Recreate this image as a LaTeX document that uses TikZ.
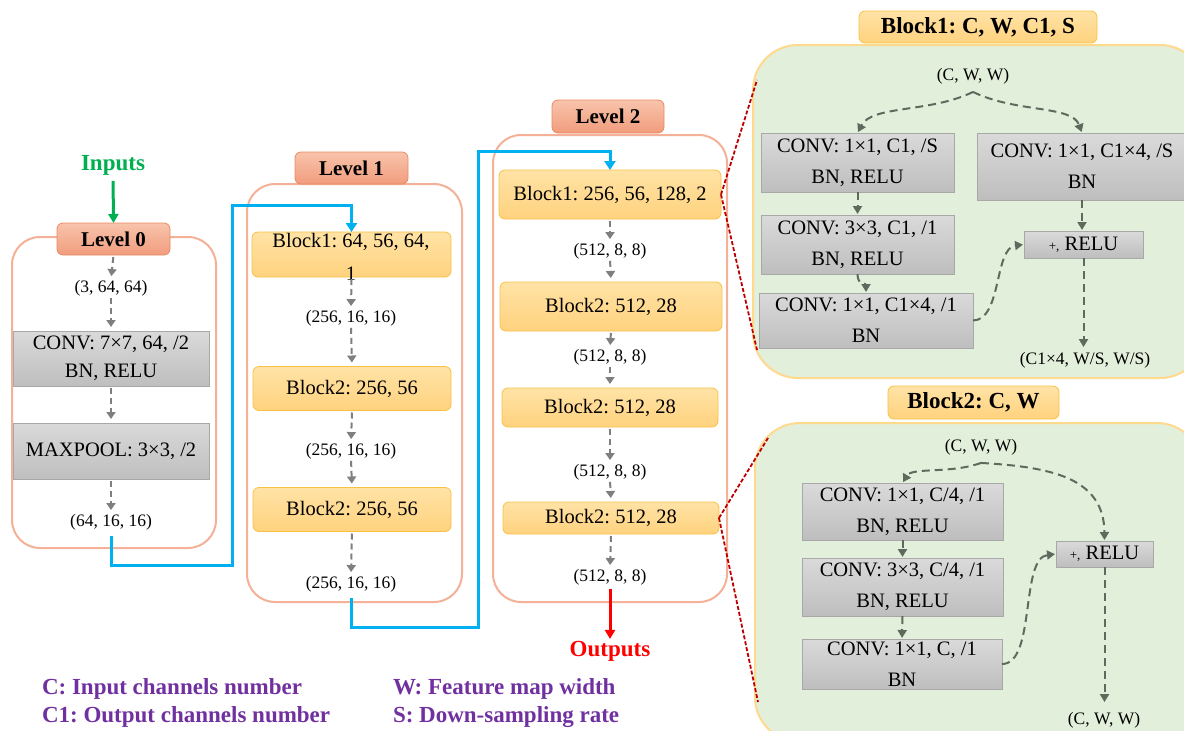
\documentclass[tikz,border=0pt]{standalone}
\usepackage{fontspec}
\setmainfont{Liberation Serif}
\usetikzlibrary{arrows.meta}
\frenchspacing

\definecolor{salmonline}{HTML}{F4B197}
\definecolor{tabtop}{HTML}{F8C4AC}
\definecolor{tabbot}{HTML}{F19C7C}
\definecolor{tabline}{HTML}{E88A62}
\definecolor{blktop}{HTML}{FFE3A6}
\definecolor{blkbot}{HTML}{FFD27E}
\definecolor{blkline}{HTML}{F7C244}
\definecolor{grytop}{HTML}{DADADA}
\definecolor{grybot}{HTML}{BEBEBE}
\definecolor{gryline}{HTML}{A8A8A8}
\definecolor{flowgray}{HTML}{7F7F7F}
\definecolor{flowgreen}{HTML}{5E6A5E}
\definecolor{linkblue}{HTML}{00B0F0}
\definecolor{zoomred}{HTML}{C00000}
\definecolor{panelfill}{HTML}{E2EFDA}
\definecolor{panelline}{HTML}{FFD98E}
\definecolor{legendpurple}{HTML}{7030A0}
\definecolor{ingreen}{HTML}{00B050}
\definecolor{outred}{HTML}{FF0000}

\tikzset{
  every node/.style={inner sep=0pt, outer sep=0pt},
  lvlframe/.style={draw=salmonline, line width=2pt, rounded corners=28pt, fill=white},
  lvltab/.style={draw=tabline, line width=0.8pt, rounded corners=6pt,
    top color=tabtop, bottom color=tabbot, font=\fontsize{21}{24}\selectfont\bfseries},
  blk/.style={draw=blkline, line width=0.8pt, rounded corners=6pt,
    top color=blktop, bottom color=blkbot, font=\fontsize{20.5}{33}\selectfont, align=center},
  blktitle/.style={draw=blkline, line width=0.8pt, rounded corners=6pt,
    top color=blktop, bottom color=blkbot, font=\fontsize{23}{26}\selectfont\bfseries},
  op/.style={draw=gryline, line width=0.8pt, top color=grytop, bottom color=grybot,
    align=center, font=\fontsize{20.5}{28}\selectfont},
  pop/.style={op, font=\fontsize{20.5}{31}\selectfont},
  dim/.style={font=\fontsize{17.5}{20}\selectfont},
  flow/.style={draw=flowgray, line width=2pt, dash pattern=on 6pt off 4pt,
    -{Triangle[length=7pt,width=9pt]}, shorten >=4pt, shorten <=2pt},
  pflow/.style={draw=flowgreen, line width=2pt, dash pattern=on 8pt off 5pt,
    -{Triangle[length=8pt,width=9pt]}, shorten >=1pt},
  link/.style={draw=linkblue, line width=3pt, -{Triangle[length=9pt,width=11pt]}},
  zoomline/.style={draw=zoomred, line width=1.8pt, dash pattern=on 4pt off 2pt},
  panel/.style={draw=panelline, line width=2pt, fill=panelfill, rounded corners=45pt},
  legend/.style={font=\fontsize{23}{26}\selectfont\bfseries, text=legendpurple, anchor=west},
}

\begin{document}
\begin{tikzpicture}[x=1pt, y=-1pt]
\useasboundingbox (0,0) rectangle (1184,731);

% ---------------- Level 0 ----------------
\draw[lvlframe] (12,237) rectangle (216,548);
\node[lvltab, minimum width=113pt, minimum height=32pt] (tab0) at (113.5,239) {Level 0};
\node[font=\fontsize{23}{26}\selectfont\bfseries, text=ingreen] (inputs) at (113,165) {Inputs};
\draw[draw=ingreen, line width=3pt, -{Triangle[length=9pt,width=10pt]}, shorten <=6pt] (inputs.south) -- (tab0.north);

\node[dim] (d0a) at (111,288) {(3, 64, 64)};
\node[op, minimum width=196pt, minimum height=55pt] (conv0) at (111,358.5) {CONV: 7×7, 64, /2\\BN, RELU};
\node[op, minimum width=196pt, minimum height=56pt] (pool0) at (111,451) {MAXPOOL: 3×3, /2};
\node[dim] (d0b) at (111,522) {(64, 16, 16)};
\draw[flow] (tab0.south) -- (d0a.north);
\draw[flow] (d0a.south) -- (conv0.north);
\draw[flow] (conv0.south) -- (pool0.north);
\draw[flow] (pool0.south) -- (d0b.north);

% ---------------- Level 1 ----------------
\draw[lvlframe] (247,184) rectangle (462,602);
\node[lvltab, minimum width=113pt, minimum height=32pt] (tab1) at (351.5,168) {Level 1};
\node[blk, minimum width=199pt, minimum height=45pt] (b11) at (351.5,254.5) {};
\node[font=\fontsize{20.5}{33}\selectfont, align=center] (b11t) at (351,257) {Block1: 64, 56, 64,\\1};
\node[dim] (d1a) at (351,318) {(256, 16, 16)};
\node[blk, minimum width=198pt, minimum height=44pt] (b12) at (352,388.5) {Block2: 256, 56};
\node[dim] (d1b) at (351,451) {(256, 16, 16)};
\node[blk, minimum width=198pt, minimum height=44pt] (b13) at (352,509.5) {Block2: 256, 56};
\node[dim] (d1c) at (351,584) {(256, 16, 16)};
\draw[flow] (b11.south) -- (d1a.north);
\draw[flow] (d1a.south) -- (b12.north);
\draw[flow] (b12.south) -- (d1b.north);
\draw[flow] (d1b.south) -- (b13.north);
\draw[flow] (b13.south) -- (d1c.north);

% ---------------- Level 2 ----------------
\draw[lvlframe] (493,135) rectangle (727,602);
\node[lvltab, minimum width=112pt, minimum height=33pt] (tab2) at (608,116.5) {Level 2};
\node[blk, minimum width=222pt, minimum height=49pt] (b21) at (610,194.5) {Block1: 256, 56, 128, 2};
\node[dim] (d2a) at (610,251) {(512, 8, 8)};
\node[blk, minimum width=222pt, minimum height=49pt] (b22) at (611,306.5) {Block2: 512, 28};
\node[dim] (d2b) at (610,357) {(512, 8, 8)};
\node[blk, minimum width=216pt, minimum height=39pt] (b23) at (610,407.5) {Block2: 512, 28};
\node[dim] (d2c) at (610,472) {(512, 8, 8)};
\node[blk, minimum width=216pt, minimum height=32pt] (b24) at (611,518) {Block2: 512, 28};
\node[dim] (d2d) at (610,577) {(512, 8, 8)};
\node[font=\fontsize{23}{26}\selectfont\bfseries, text=outred] (outputs) at (610,651) {Outputs};
\draw[flow] (b21.south) -- (d2a.north);
\draw[flow] (d2a.south) -- (b22.north);
\draw[flow] (b22.south) -- (d2b.north);
\draw[flow] (d2b.south) -- (b23.north);
\draw[flow] (b23.south) -- (d2c.north);
\draw[flow] (d2c.south) -- (b24.north);
\draw[flow] (b24.south) -- (d2d.north);
\draw[draw=outred, line width=3pt, -{Triangle[length=9pt,width=10pt]}, shorten <=4pt, shorten >=2pt] (d2d.south) -- (outputs.north);

% ---------------- links between levels ----------------
\draw[link] (d0b.south) ++(0,6) -- (111,565) -| (232,205) -| (b11.north);
\draw[link] (d1c.south) ++(0,6) -- (351,627) -| (478,151) -| (b21.north);

% ---------------- detail panels ----------------
\begin{scope}
\clip (0,0) rectangle (1184,731);

% Block1 detail
\draw[panel] (753,45) rectangle (1205,378);
\node[blktitle, minimum width=238pt, minimum height=32pt] (tb1) at (978,27) {Block1: C, W, C1, S};
\node[dim] (cww1) at (973,76) {(C, W, W)};
\coordinate (apex1) at ([yshift=-8pt]cww1.south);
\node[pop, minimum width=193pt, minimum height=59pt] (A) at (857.5,162.5) {CONV: 1×1, C1, /S\\BN, RELU};
\node[pop, minimum width=210pt, minimum height=67pt] (R) at (1082,166.5) {CONV: 1×1, C1×4, /S\\BN};
\node[pop, minimum width=193pt, minimum height=59pt] (B) at (857.5,244.5) {CONV: 3×3, C1, /1\\BN, RELU};
\node[pop, minimum width=214pt, minimum height=55pt] (C) at (866,320.5) {CONV: 1×1, C1×4, /1\\BN};
\node[op, minimum width=119pt, minimum height=27pt] (P1) at (1083.5,244.5) {{\fontsize{13}{13}\selectfont +,} RELU};
\node[dim] (o1) at (1085,360) {(C1×4, W/S, W/S)};
\draw[pflow] (apex1) .. controls (930,113) and (872,105) .. (A.north);
\draw[pflow] (apex1) .. controls (1016,113) and (1072,105) .. (R.north);
\draw[pflow] (A.south) -- (B.north);
\draw[pflow] (B.south) .. controls +(0,12) and +(0,-10) .. (C.north);
\draw[pflow] (C.east) .. controls (1002,320) and (994,248) .. (P1.west);
\draw[pflow] (R.south) -- (R.south |- P1.north);
\draw[pflow, shorten >=5pt] (P1.south) -- (P1.south |- o1.north);

% Block2 detail
\draw[panel] (755,423) rectangle (1202,742);
\node[blktitle, minimum width=171pt, minimum height=33pt] (tb2) at (973.5,402.5) {Block2: C, W};
\node[dim] (cww2) at (981,447) {(C, W, W)};
\coordinate (apex2) at ([yshift=-8pt]cww2.south);
\node[pop, minimum width=201pt, minimum height=57pt] (D) at (902.5,511.5) {CONV: 1×1, C/4, /1\\BN, RELU};
\node[pop, minimum width=201pt, minimum height=58pt] (E) at (902.5,587) {CONV: 3×3, C/4, /1\\BN, RELU};
\node[pop, minimum width=200pt, minimum height=50pt] (F) at (902,664) {CONV: 1×1, C, /1\\BN};
\node[op, minimum width=97pt, minimum height=26pt] (P2) at (1104.5,554) {{\fontsize{13}{13}\selectfont +,} RELU};
\node[dim] (o2) at (1104,720) {(C, W, W)};
\draw[pflow] (apex2) .. controls (950,474) and (912,467) .. (D.north);
\draw[pflow] (apex2) .. controls (1052,467) and (1104,478) .. (P2.north);
\draw[pflow] (D.south) -- (E.north);
\draw[pflow] (E.south) -- (F.north);
\draw[pflow] (F.east) .. controls (1036,664) and (1020,558) .. (P2.west);
\draw[pflow, shorten >=10pt] (P2.south) -- (P2.south |- o2.north);
\end{scope}

% zoom guides from the level blocks to their detail panels
\draw[zoomline] (b21.east) -- (757,80);
\draw[zoomline] (b21.east) -- (757,350);
\draw[zoomline] (b24.east) -- (768,438);
\draw[zoomline] (b24.east) -- (758,702);

% ---------------- legend ----------------
\node[legend] (lgC) at (42,689) {C: Input channels number};
\node[legend] (lgC1) at (42,717) {C1: Output channels number};
\node[legend] (lgW) at (393,689) {W: Feature map width};
\node[legend] (lgS) at (393,717) {S: Down-sampling rate};
\end{tikzpicture}
\end{document}
